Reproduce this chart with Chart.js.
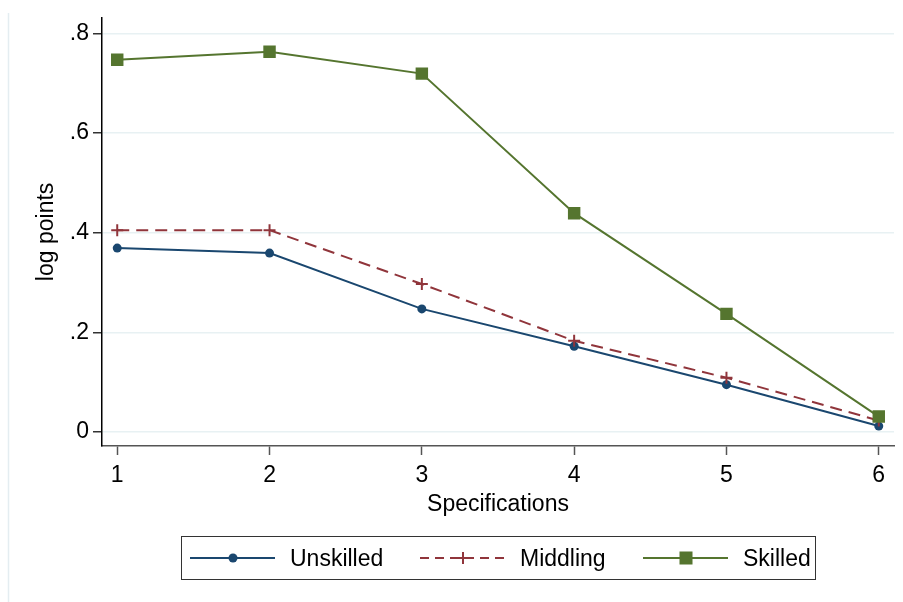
<!DOCTYPE html>
<html>
<head>
<meta charset="utf-8">
<script src="https://cdn.jsdelivr.net/npm/chart.js@4.4.0/dist/chart.umd.min.js"></script>
<style>
  html, body { margin: 0; padding: 0; background: #fff; }
  #wrap { position: relative; width: 903px; height: 602px; font-family: "Liberation Sans", Arial, sans-serif; }
  #legendBox { position: absolute; left: 181px; top: 536px; width: 635px; height: 44px; border: 1px solid #333; box-sizing: border-box; }
  .item { position: absolute; top: 536px; height: 44px; display: flex; align-items: center; font-size: 23px; color: #000; }
  .item svg { margin-right: 15px; }
</style>
</head>
<body>
<div id="wrap">
  <canvas id="chart" width="903" height="602"></canvas>
  <div id="legendBox"></div>
  <div id="legend"></div>
</div>
<script>
// values
const specs = [1, 2, 3, 4, 5, 6];
const unskilled = [0.369, 0.359, 0.247, 0.172, 0.095, 0.012];
const middling = [0.405, 0.405, 0.297, 0.183, 0.109, 0.023];
const skilled = [0.747, 0.763, 0.719, 0.439, 0.237, 0.031];
const yTicks = [0, 0.2, 0.4, 0.6, 0.8];
const yTickLabels = ["0", ".2", ".4", ".6", ".8"];
const seriesNames = ["Unskilled", "Middling", "Skilled"];

const navy = "#1a476f";
const maroon = "#90353b";
const green = "#55752f";

const toPoints = (vals) => specs.map((x, i) => ({ x: x, y: vals[i] }));

// faint outer frame line on the left, as in the Stata export
const frameLine = {
  id: "frameLine",
  beforeDraw(chart) {
    const ctx = chart.ctx;
    ctx.save();
    ctx.fillStyle = "#fff";
    ctx.fillRect(0, 0, chart.width, chart.height);
    ctx.strokeStyle = "#e4edf1";
    ctx.lineWidth = 1.5;
    ctx.beginPath();
    ctx.moveTo(8.5, 13);
    ctx.lineTo(8.5, chart.height);
    ctx.stroke();
    ctx.restore();
  },
};

const font = { family: "'Liberation Sans', Arial, sans-serif", size: 23 };

new Chart(document.getElementById("chart"), {
  type: "line",
  data: {
    datasets: [
      {
        label: seriesNames[0],
        data: toPoints(unskilled),
        borderColor: navy,
        backgroundColor: navy,
        borderWidth: 2,
        pointStyle: "circle",
        pointRadius: 4.5,
        pointBorderWidth: 0,
        order: 2,
      },
      {
        label: seriesNames[1],
        data: toPoints(middling),
        borderColor: maroon,
        backgroundColor: maroon,
        borderWidth: 2,
        borderDash: [12, 7],
        pointStyle: "cross",
        pointRadius: 6,
        pointBorderWidth: 2,
        order: 1,
      },
      {
        label: seriesNames[2],
        data: toPoints(skilled),
        borderColor: green,
        backgroundColor: green,
        borderWidth: 2,
        pointStyle: "rect",
        pointRadius: 8.8,
        pointBorderWidth: 0,
        order: 0,
      },
    ],
  },
  options: {
    responsive: false,
    animation: false,
    layout: { padding: { left: 33, top: 16, right: 9, bottom: 83.5 } },
    plugins: { legend: { display: false }, tooltip: { enabled: false } },
    scales: {
      x: {
        type: "linear",
        min: 0.9,
        max: 6.1,
        afterBuildTicks: (s) => { s.ticks = specs.map((v) => ({ value: v })); },
        afterFit: (s) => { s.height = 72.5; },
        ticks: { font: font, color: "#000", padding: 7, autoSkip: false, maxRotation: 0 },
        grid: { drawOnChartArea: false, tickLength: 9, tickColor: "#555", tickWidth: 1.5 },
        border: { color: "#555", width: 1.5 },
        title: { display: true, text: "Specifications", font: font, color: "#000", padding: 0 },
      },
      y: {
        min: -0.028,
        max: 0.831,
        afterBuildTicks: (s) => { s.ticks = yTicks.map((v) => ({ value: v })); },
        afterFit: (s) => { s.width = 69; },
        ticks: {
          font: font,
          color: "#000",
          padding: 4,
          callback: (v) => yTickLabels[yTicks.indexOf(v)],
        },
        grid: { color: "#e8f1f3", lineWidth: 1.5, tickLength: 9, tickColor: "#333", tickWidth: 1.5 },
        border: { color: "#000", width: 1.5 },
        title: { display: true, text: "log points", font: font, color: "#000", padding: 0 },
      },
    },
  },
  plugins: [frameLine],
});

// legend: line + marker symbol followed by the label
const legendItems = [
  { name: seriesNames[0], color: navy, x: 190, dash: "", marker: "circle" },
  { name: seriesNames[1], color: maroon, x: 420, dash: "9 6", marker: "cross" },
  { name: seriesNames[2], color: green, x: 643, dash: "", marker: "rect" },
];
const legend = document.getElementById("legend");
legendItems.forEach((it) => {
  let mk = "";
  if (it.marker === "circle") mk = `<circle cx="43" cy="10" r="4.5" fill="${it.color}"/>`;
  if (it.marker === "cross") mk = `<path d="M37 10 H49 M43 4 V16" stroke="${it.color}" stroke-width="2"/>`;
  if (it.marker === "rect") mk = `<rect x="36.5" y="3.5" width="13" height="13" fill="${it.color}"/>`;
  const div = document.createElement("div");
  div.className = "item";
  div.style.left = it.x + "px";
  div.innerHTML = `
    <svg width="85" height="20"><line x1="0" y1="10" x2="85" y2="10" stroke="${it.color}" stroke-width="2" stroke-dasharray="${it.dash}"/>${mk}</svg>
    <span>${it.name}</span>`;
  legend.appendChild(div);
});
</script>
</body>
</html>
